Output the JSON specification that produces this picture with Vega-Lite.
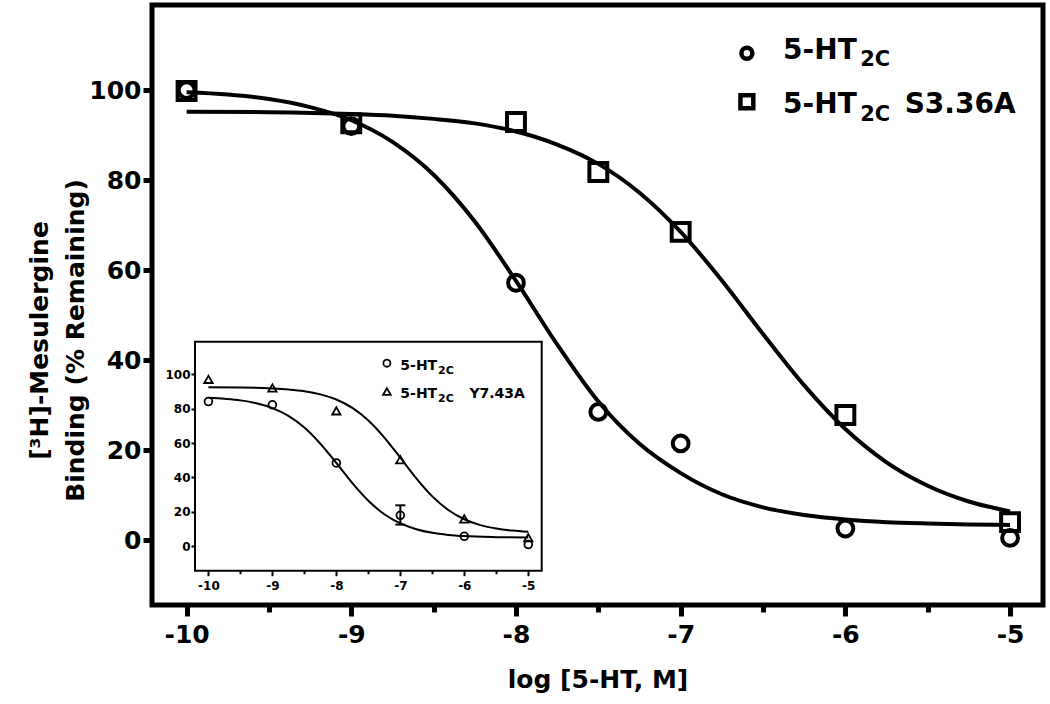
{
  "$schema": "https://vega.github.io/schema/vega-lite/v6.json",
  "width": 891,
  "height": 600,
  "autosize": "none",
  "padding": {"left": 152, "top": 5, "right": 7, "bottom": 99},
  "background": "white",
  "config": {
    "view": {"stroke": "black", "strokeWidth": 5},
    "font": "DejaVu Sans",
    "axis": {"labelFont": "DejaVu Sans", "labelFontWeight": "bold", "titleFont": "DejaVu Sans", "titleFontWeight": "bold", "labelColor": "black", "titleColor": "black", "tickColor": "black", "domain": false, "grid": false, "labelOverlap": false},
    "text": {"font": "DejaVu Sans", "fontWeight": "bold", "color": "black"}
  },
  "datasets": {
    "main_pts": [
      {"series": "wt", "logc": -10, "pct": 100},
      {"series": "wt", "logc": -9, "pct": 92},
      {"series": "wt", "logc": -8, "pct": 57.2},
      {"series": "wt", "logc": -7.5, "pct": 28.5},
      {"series": "wt", "logc": -7, "pct": 21.5},
      {"series": "wt", "logc": -6, "pct": 2.6},
      {"series": "wt", "logc": -5, "pct": 0.5},
      {"series": "mut", "logc": -10, "pct": 99.8},
      {"series": "mut", "logc": -9, "pct": 92.6},
      {"series": "mut", "logc": -8, "pct": 92.9},
      {"series": "mut", "logc": -7.5, "pct": 81.8},
      {"series": "mut", "logc": -7, "pct": 68.5},
      {"series": "mut", "logc": -6, "pct": 27.8},
      {"series": "mut", "logc": -5, "pct": 4}
    ],
    "main_fit": [
      {"series": "wt", "logc": -10, "pct": 99.5},
      {"series": "wt", "logc": -9.75, "pct": 99.0},
      {"series": "wt", "logc": -9.5, "pct": 98.0},
      {"series": "wt", "logc": -9.25, "pct": 96.2},
      {"series": "wt", "logc": -9, "pct": 93.3},
      {"series": "wt", "logc": -8.75, "pct": 88.5},
      {"series": "wt", "logc": -8.5, "pct": 81.2},
      {"series": "wt", "logc": -8.25, "pct": 70.8},
      {"series": "wt", "logc": -8, "pct": 57.6},
      {"series": "wt", "logc": -7.75, "pct": 43.5},
      {"series": "wt", "logc": -7.5, "pct": 30.8},
      {"series": "wt", "logc": -7.25, "pct": 21.4},
      {"series": "wt", "logc": -7, "pct": 14.9},
      {"series": "wt", "logc": -6.75, "pct": 10.2},
      {"series": "wt", "logc": -6.5, "pct": 7.3},
      {"series": "wt", "logc": -6.25, "pct": 5.6},
      {"series": "wt", "logc": -6, "pct": 4.6},
      {"series": "wt", "logc": -5.75, "pct": 4.0},
      {"series": "wt", "logc": -5.5, "pct": 3.7},
      {"series": "wt", "logc": -5.25, "pct": 3.5},
      {"series": "wt", "logc": -5, "pct": 3.4},
      {"series": "mut", "logc": -10, "pct": 95.2},
      {"series": "mut", "logc": -9.5, "pct": 95.1},
      {"series": "mut", "logc": -9, "pct": 94.7},
      {"series": "mut", "logc": -8.75, "pct": 94.3},
      {"series": "mut", "logc": -8.5, "pct": 93.6},
      {"series": "mut", "logc": -8.25, "pct": 92.6},
      {"series": "mut", "logc": -8, "pct": 90.8},
      {"series": "mut", "logc": -7.75, "pct": 87.9},
      {"series": "mut", "logc": -7.5, "pct": 83.6},
      {"series": "mut", "logc": -7.25, "pct": 77.2},
      {"series": "mut", "logc": -7, "pct": 68.5},
      {"series": "mut", "logc": -6.75, "pct": 57.7},
      {"series": "mut", "logc": -6.5, "pct": 45.8},
      {"series": "mut", "logc": -6.25, "pct": 34.4},
      {"series": "mut", "logc": -6, "pct": 24.7},
      {"series": "mut", "logc": -5.75, "pct": 17.3},
      {"series": "mut", "logc": -5.5, "pct": 12.1},
      {"series": "mut", "logc": -5.25, "pct": 8.6},
      {"series": "mut", "logc": -5, "pct": 6.4}
    ],
    "inset_pts": [
      {"series": "wt", "logc": -10, "pct": 84.1},
      {"series": "wt", "logc": -9, "pct": 82.2},
      {"series": "wt", "logc": -8, "pct": 48.4},
      {"series": "wt", "logc": -7, "pct": 18},
      {"series": "wt", "logc": -6, "pct": 5.8},
      {"series": "wt", "logc": -5, "pct": 1},
      {"series": "y743a", "logc": -10, "pct": 97},
      {"series": "y743a", "logc": -9, "pct": 92},
      {"series": "y743a", "logc": -8, "pct": 78.7},
      {"series": "y743a", "logc": -7, "pct": 50.3},
      {"series": "y743a", "logc": -6, "pct": 15.9},
      {"series": "y743a", "logc": -5, "pct": 5}
    ],
    "inset_err": [
      {"series": "wt", "logc": -7, "lo": 12.6, "hi": 23.8}
    ],
    "inset_fit": [
      {"series": "wt", "logc": -10, "pct": 86.3},
      {"series": "wt", "logc": -9.75, "pct": 85.7},
      {"series": "wt", "logc": -9.5, "pct": 84.8},
      {"series": "wt", "logc": -9.25, "pct": 83.1},
      {"series": "wt", "logc": -9, "pct": 80.3},
      {"series": "wt", "logc": -8.75, "pct": 75.8},
      {"series": "wt", "logc": -8.5, "pct": 69.0},
      {"series": "wt", "logc": -8.25, "pct": 59.6},
      {"series": "wt", "logc": -8, "pct": 48.4},
      {"series": "wt", "logc": -7.75, "pct": 36.7},
      {"series": "wt", "logc": -7.5, "pct": 26.5},
      {"series": "wt", "logc": -7.25, "pct": 18.6},
      {"series": "wt", "logc": -7, "pct": 13.3},
      {"series": "wt", "logc": -6.75, "pct": 9.9},
      {"series": "wt", "logc": -6.5, "pct": 7.8},
      {"series": "wt", "logc": -6.25, "pct": 6.6},
      {"series": "wt", "logc": -6, "pct": 5.9},
      {"series": "wt", "logc": -5.5, "pct": 5.3},
      {"series": "wt", "logc": -5, "pct": 5.1},
      {"series": "y743a", "logc": -10, "pct": 92.4},
      {"series": "y743a", "logc": -9.5, "pct": 92.3},
      {"series": "y743a", "logc": -9, "pct": 91.7},
      {"series": "y743a", "logc": -8.75, "pct": 91.1},
      {"series": "y743a", "logc": -8.5, "pct": 90.1},
      {"series": "y743a", "logc": -8.25, "pct": 88.3},
      {"series": "y743a", "logc": -8, "pct": 85.3},
      {"series": "y743a", "logc": -7.75, "pct": 80.4},
      {"series": "y743a", "logc": -7.5, "pct": 73.1},
      {"series": "y743a", "logc": -7.25, "pct": 63.2},
      {"series": "y743a", "logc": -7, "pct": 51.5},
      {"series": "y743a", "logc": -6.75, "pct": 39.5},
      {"series": "y743a", "logc": -6.5, "pct": 29.0},
      {"series": "y743a", "logc": -6.25, "pct": 21.1},
      {"series": "y743a", "logc": -6, "pct": 15.7},
      {"series": "y743a", "logc": -5.75, "pct": 12.3},
      {"series": "y743a", "logc": -5.5, "pct": 10.3},
      {"series": "y743a", "logc": -5.25, "pct": 9.1},
      {"series": "y743a", "logc": -5, "pct": 8.4}
    ],
    "one": [{"k": 1}]
  },
  "layer": [
    {
      "layer": [
        {
          "data": {"name": "main_fit"},
          "transform": [{"filter": "datum.series === 'wt'"}],
          "mark": {"type": "line", "color": "black", "strokeWidth": 4, "interpolate": "monotone"},
          "encoding": {
            "x": {
              "field": "logc", "type": "quantitative",
              "scale": {"domain": [-10.21, -4.8], "nice": false, "zero": false},
              "axis": {
                "values": [-10, -9.5, -9, -8.5, -8, -7.5, -7, -6.5, -6, -5.5, -5],
                "labelExpr": "datum.value % 1 === 0 ? '' + datum.value : ''",
                "tickSize": {"condition": {"test": "datum.value % 1 === 0", "value": 11}, "value": 7},
                "tickWidth": 5,
                "labelFontSize": 25,
                "labelPadding": 6,
                "title": "log [5-HT, M]",
                "titleFontSize": 25,
                "titlePadding": 20
              }
            },
            "y": {
              "field": "pct", "type": "quantitative",
              "scale": {"domain": [-14.4, 118.9], "nice": false, "zero": false},
              "axis": {
                "values": [0, 20, 40, 60, 80, 100],
                "tickSize": 9,
                "tickWidth": 5,
                "labelFontSize": 25,
                "labelPadding": 2,
                "title": ["[³H]-Mesulergine", "Binding (% Remaining)"],
                "titleFontSize": 25,
                "titleLineHeight": 36,
                "titlePadding": 0,
                "titleY": 335
              }
            },
            "order": {"field": "logc", "type": "quantitative"}
          }
        },
        {
          "data": {"name": "main_fit"},
          "transform": [{"filter": "datum.series === 'mut'"}],
          "mark": {"type": "line", "color": "black", "strokeWidth": 4, "interpolate": "monotone"},
          "encoding": {
            "x": {"field": "logc", "type": "quantitative", "scale": {"domain": [-10.21, -4.8], "nice": false, "zero": false}},
            "y": {"field": "pct", "type": "quantitative", "scale": {"domain": [-14.4, 118.9], "nice": false, "zero": false}},
            "order": {"field": "logc", "type": "quantitative"}
          }
        },
        {
          "data": {"name": "main_pts"},
          "transform": [{"filter": "datum.series === 'mut'"}],
          "mark": {"type": "point", "shape": "square", "filled": false, "color": "black", "opacity": 1, "size": 320, "strokeWidth": 4},
          "encoding": {
            "x": {"field": "logc", "type": "quantitative", "scale": {"domain": [-10.21, -4.8], "nice": false, "zero": false}},
            "y": {"field": "pct", "type": "quantitative", "scale": {"domain": [-14.4, 118.9], "nice": false, "zero": false}}
          }
        },
        {
          "data": {"name": "main_pts"},
          "transform": [{"filter": "datum.series === 'wt'"}],
          "mark": {"type": "point", "shape": "circle", "filled": false, "color": "black", "opacity": 1, "size": 250, "strokeWidth": 4},
          "encoding": {
            "x": {"field": "logc", "type": "quantitative", "scale": {"domain": [-10.21, -4.8], "nice": false, "zero": false}},
            "y": {"field": "pct", "type": "quantitative", "scale": {"domain": [-14.4, 118.9], "nice": false, "zero": false}}
          }
        },
        {
          "data": {"name": "one"},
          "mark": {"type": "point", "shape": "circle", "filled": false, "color": "black", "opacity": 1, "size": 120, "strokeWidth": 4.5},
          "encoding": {"x": {"datum": -6.598, "type": "quantitative"}, "y": {"datum": 108.2, "type": "quantitative"}}
        },
        {
          "data": {"name": "one"},
          "mark": {"type": "point", "shape": "square", "filled": false, "color": "black", "opacity": 1, "size": 165, "strokeWidth": 4.5},
          "encoding": {"x": {"datum": -6.598, "type": "quantitative"}, "y": {"datum": 97.4, "type": "quantitative"}}
        },
        {
          "data": {"name": "one"},
          "mark": {"type": "text", "text": "5-HT", "fontSize": 28, "align": "left", "baseline": "alphabetic"},
          "encoding": {"x": {"datum": -6.378, "type": "quantitative"}, "y": {"datum": 107.0, "type": "quantitative"}}
        },
        {
          "data": {"name": "one"},
          "mark": {"type": "text", "text": "2C", "fontSize": 21, "align": "left", "baseline": "alphabetic"},
          "encoding": {"x": {"datum": -5.91, "type": "quantitative"}, "y": {"datum": 105.3, "type": "quantitative"}}
        },
        {
          "data": {"name": "one"},
          "mark": {"type": "text", "text": "5-HT", "fontSize": 28, "align": "left", "baseline": "alphabetic"},
          "encoding": {"x": {"datum": -6.378, "type": "quantitative"}, "y": {"datum": 94.8, "type": "quantitative"}}
        },
        {
          "data": {"name": "one"},
          "mark": {"type": "text", "text": "2C", "fontSize": 21, "align": "left", "baseline": "alphabetic"},
          "encoding": {"x": {"datum": -5.91, "type": "quantitative"}, "y": {"datum": 93.1, "type": "quantitative"}}
        },
        {
          "data": {"name": "one"},
          "mark": {"type": "text", "text": "S3.36A", "fontSize": 28, "align": "left", "baseline": "alphabetic"},
          "encoding": {"x": {"datum": -5.64, "type": "quantitative"}, "y": {"datum": 94.8, "type": "quantitative"}}
        }
      ]
    },
    {
      "layer": [
        {
          "data": {"name": "one"},
          "mark": {"type": "rect", "fill": "white", "stroke": "black", "strokeWidth": 2},
          "encoding": {
            "x": {
              "datum": -10.21, "type": "quantitative",
              "scale": {"domain": [-10.21, -4.79], "range": [43, 389.7], "nice": false, "zero": false},
              "axis": {
                "orient": "bottom",
                "offset": -34.3,
                "values": [-10, -9.5, -9, -8.5, -8, -7.5, -7, -6.5, -6, -5.5, -5],
                "labelExpr": "datum.value % 1 === 0 ? '' + datum.value : ''",
                "tickSize": {"condition": {"test": "datum.value % 1 === 0", "value": 5}, "value": 3},
                "tickWidth": 2,
                "labelFontSize": 12,
                "labelPadding": 5,
                "title": null
              }
            },
            "x2": {"datum": -4.79},
            "y": {
              "datum": -14.2, "type": "quantitative",
              "scale": {"domain": [-14.2, 118.9], "range": [565.7, 336.7], "nice": false, "zero": false},
              "axis": {
                "orient": "left",
                "offset": -43,
                "values": [0, 20, 40, 60, 80, 100],
                "tickSize": 4,
                "tickWidth": 2,
                "labelFontSize": 12,
                "labelPadding": 1,
                "title": null
              }
            },
            "y2": {"datum": 118.9}
          }
        },
        {
          "data": {"name": "inset_fit"},
          "transform": [{"filter": "datum.series === 'wt'"}],
          "mark": {"type": "line", "color": "black", "strokeWidth": 2, "interpolate": "monotone"},
          "encoding": {
            "x": {"field": "logc", "type": "quantitative"},
            "y": {"field": "pct", "type": "quantitative"},
            "order": {"field": "logc", "type": "quantitative"}
          }
        },
        {
          "data": {"name": "inset_fit"},
          "transform": [{"filter": "datum.series === 'y743a'"}],
          "mark": {"type": "line", "color": "black", "strokeWidth": 2, "interpolate": "monotone"},
          "encoding": {
            "x": {"field": "logc", "type": "quantitative"},
            "y": {"field": "pct", "type": "quantitative"},
            "order": {"field": "logc", "type": "quantitative"}
          }
        },
        {
          "data": {"name": "inset_err"},
          "mark": {"type": "rule", "color": "black", "strokeWidth": 2},
          "encoding": {"x": {"field": "logc", "type": "quantitative"}, "y": {"field": "lo", "type": "quantitative"}, "y2": {"field": "hi"}}
        },
        {
          "data": {"name": "inset_err"},
          "mark": {"type": "tick", "orient": "horizontal", "color": "black", "opacity": 1, "size": 10, "thickness": 2},
          "encoding": {"x": {"field": "logc", "type": "quantitative"}, "y": {"field": "hi", "type": "quantitative"}}
        },
        {
          "data": {"name": "inset_err"},
          "mark": {"type": "tick", "orient": "horizontal", "color": "black", "opacity": 1, "size": 10, "thickness": 2},
          "encoding": {"x": {"field": "logc", "type": "quantitative"}, "y": {"field": "lo", "type": "quantitative"}}
        },
        {
          "data": {"name": "inset_pts"},
          "transform": [{"filter": "datum.series === 'wt'"}],
          "mark": {"type": "point", "shape": "circle", "filled": false, "color": "black", "opacity": 1, "size": 60, "strokeWidth": 1.8},
          "encoding": {"x": {"field": "logc", "type": "quantitative"}, "y": {"field": "pct", "type": "quantitative"}}
        },
        {
          "data": {"name": "inset_pts"},
          "transform": [{"filter": "datum.series === 'y743a'"}],
          "mark": {"type": "point", "shape": "triangle-up", "filled": false, "color": "black", "opacity": 1, "size": 70, "strokeWidth": 1.8},
          "encoding": {"x": {"field": "logc", "type": "quantitative"}, "y": {"field": "pct", "type": "quantitative"}}
        },
        {
          "data": {"name": "one"},
          "mark": {"type": "point", "shape": "circle", "filled": false, "color": "black", "opacity": 1, "size": 50, "strokeWidth": 1.8},
          "encoding": {"x": {"datum": -7.21, "type": "quantitative"}, "y": {"datum": 106.4, "type": "quantitative"}}
        },
        {
          "data": {"name": "one"},
          "mark": {"type": "point", "shape": "triangle-up", "filled": false, "color": "black", "opacity": 1, "size": 60, "strokeWidth": 1.8},
          "encoding": {"x": {"datum": -7.21, "type": "quantitative"}, "y": {"datum": 89.9, "type": "quantitative"}}
        },
        {
          "data": {"name": "one"},
          "mark": {"type": "text", "text": "5-HT", "fontSize": 14, "align": "left", "baseline": "alphabetic"},
          "encoding": {"x": {"datum": -7.0, "type": "quantitative"}, "y": {"datum": 102.6, "type": "quantitative"}}
        },
        {
          "data": {"name": "one"},
          "mark": {"type": "text", "text": "2C", "fontSize": 11, "align": "left", "baseline": "alphabetic"},
          "encoding": {"x": {"datum": -6.41, "type": "quantitative"}, "y": {"datum": 100.4, "type": "quantitative"}}
        },
        {
          "data": {"name": "one"},
          "mark": {"type": "text", "text": "5-HT", "fontSize": 14, "align": "left", "baseline": "alphabetic"},
          "encoding": {"x": {"datum": -7.0, "type": "quantitative"}, "y": {"datum": 86.1, "type": "quantitative"}}
        },
        {
          "data": {"name": "one"},
          "mark": {"type": "text", "text": "2C", "fontSize": 11, "align": "left", "baseline": "alphabetic"},
          "encoding": {"x": {"datum": -6.41, "type": "quantitative"}, "y": {"datum": 83.9, "type": "quantitative"}}
        },
        {
          "data": {"name": "one"},
          "mark": {"type": "text", "text": "Y7.43A", "fontSize": 14, "align": "left", "baseline": "alphabetic"},
          "encoding": {"x": {"datum": -5.92, "type": "quantitative"}, "y": {"datum": 86.1, "type": "quantitative"}}
        }
      ]
    }
  ],
  "resolve": {
    "scale": {"x": "independent", "y": "independent"},
    "axis": {"x": "independent", "y": "independent"}
  }
}
